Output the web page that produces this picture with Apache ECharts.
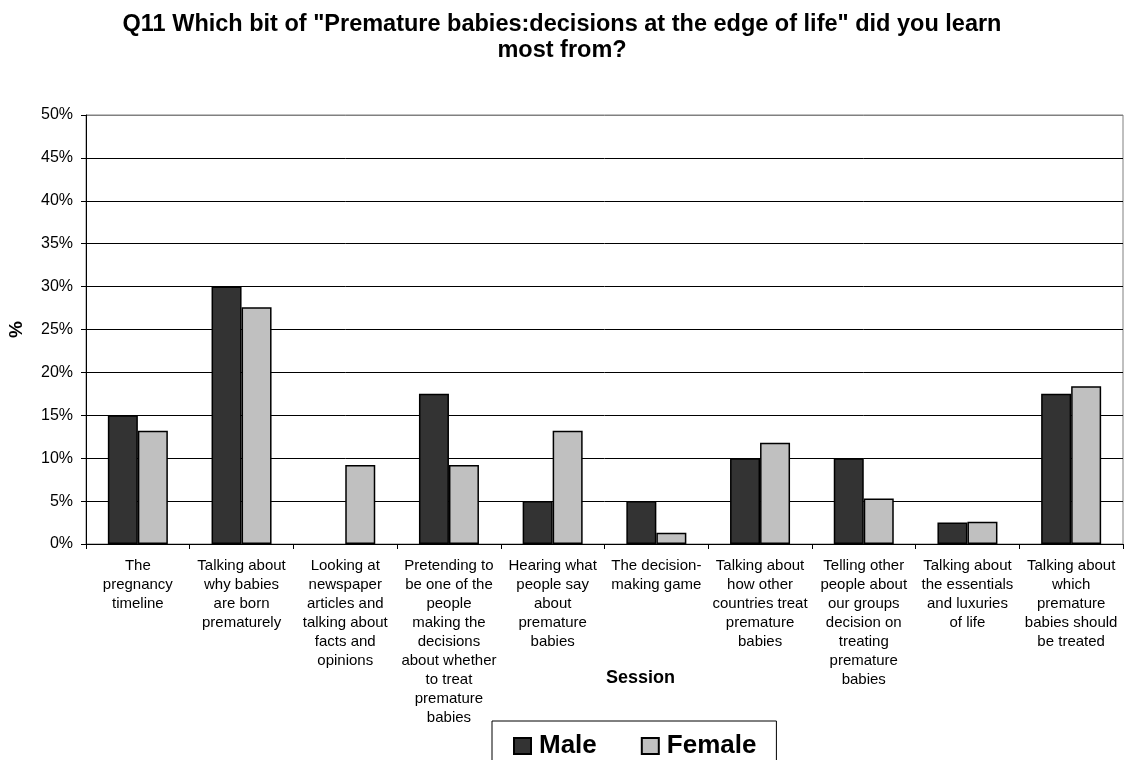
<!DOCTYPE html>
<html>
<head>
<meta charset="utf-8">
<title>Q11</title>
<script src="https://cdn.jsdelivr.net/npm/echarts@6/dist/echarts.min.js"></script>
<style>
    html, body { margin: 0; padding: 0; background: #fff; }
    #main { width: 1124px; height: 760px; }
</style>
</head>
<body>
<div id="main"></div>
<script>
// 数据
var sessions = [
    'The\npregnancy\ntimeline',
    'Talking about\nwhy babies\nare born\nprematurely',
    'Looking at\nnewspaper\narticles and\ntalking about\nfacts and\nopinions',
    'Pretending to\nbe one of the\npeople\nmaking the\ndecisions\nabout whether\nto treat\npremature\nbabies',
    'Hearing what\npeople say\nabout\npremature\nbabies',
    'The decision-\nmaking game',
    'Talking about\nhow other\ncountries treat\npremature\nbabies',
    'Telling other\npeople about\nour groups\ndecision on\ntreating\npremature\nbabies',
    'Talking about\nthe essentials\nand luxuries\nof life',
    'Talking about\nwhich\npremature\nbabies should\nbe treated'
];
var male = [15, 30, 0, 17.5, 5, 5, 10, 10, 2.5, 17.5];
var female = [13.2, 27.6, 9.2, 9.2, 13.2, 1.3, 11.8, 5.3, 2.6, 18.4];
var yTicks = [0, 5, 10, 15, 20, 25, 30, 35, 40, 45, 50];

var fontName = '"Liberation Sans", Arial, sans-serif';

var myChart = echarts.init(document.getElementById('main'));

// 顶部那条网格线是灰色的
var gridColors = yTicks.map(function (t) { return t === 50 ? '#808080' : '#000'; });

// 0 值的柱子不画边框
function barData(arr) {
    return arr.map(function (v) {
        return v === 0 ? { value: v, itemStyle: { borderWidth: 0 } } : v;
    });
}

var option = {
    backgroundColor: '#fff',
    animation: false,
    textStyle: { fontFamily: fontName },
    title: {
        text: 'Q11 Which bit of "Premature babies:decisions at the edge of life" did you learn\nmost from?',
        left: 'center',
        top: 7,
        textStyle: {
            fontFamily: fontName,
            fontSize: 23.5,
            fontWeight: 'bold',
            color: '#000',
            lineHeight: 26
        }
    },
    legend: {
        data: ['Male', 'Female'],
        left: 492,
        top: 721,
        padding: [12, 20, 30, 21],
        itemGap: 44,
        itemWidth: 17,
        itemHeight: 16,
        icon: 'rect',
        borderColor: '#000',
        borderWidth: 1,
        backgroundColor: '#fff',
        textStyle: {
            fontFamily: fontName,
            fontSize: 26,
            fontWeight: 'bold',
            color: '#000',
            padding: [0, 0, 0, 3]
        }
    },
    grid: {
        left: 86,
        right: 1,
        top: 115,
        bottom: 216,
        outerBoundsMode: 'none',
        show: true,
        borderColor: '#808080',
        borderWidth: 1,
        backgroundColor: '#fff'
    },
    xAxis: {
        type: 'category',
        data: sessions,
        name: 'Session',
        nameLocation: 'middle',
        nameGap: 125,
        nameMoveOverlap: false,
        nameTextStyle: {
            fontFamily: fontName,
            fontSize: 18,
            fontWeight: 'bold',
            color: '#000',
            padding: [0, 0, 0, 72]
        },
        axisLine: { lineStyle: { color: '#000', width: 1 } },
        axisTick: { show: true, length: 5, lineStyle: { color: '#000' } },
        axisLabel: {
            interval: 0,
            margin: 12,
            fontFamily: fontName,
            fontSize: 15,
            lineHeight: 19,
            color: '#000',
            align: 'center',
            verticalAlign: 'top'
        }
    },
    yAxis: {
        type: 'value',
        min: 0,
        max: 50,
        interval: 5,
        name: '%',
        nameLocation: 'middle',
        nameRotate: 90,
        nameGap: 60,
        nameMoveOverlap: false,
        nameTextStyle: {
            fontFamily: fontName,
            fontSize: 19,
            fontWeight: 'bold',
            color: '#000'
        },
        axisLine: { show: true, lineStyle: { color: '#000', width: 1 } },
        axisTick: { show: true, length: 5, lineStyle: { color: '#000' } },
        axisLabel: {
            margin: 13,
            fontFamily: fontName,
            fontSize: 16,
            color: '#000',
            formatter: '{value}%'
        },
        splitLine: { show: true, lineStyle: { color: gridColors, width: 1 } }
    },
    series: [
        {
            name: 'Male',
            type: 'bar',
            data: barData(male),
            barWidth: 30,
            barGap: '0%',
            itemStyle: { color: '#333333', borderColor: '#000', borderWidth: 1.5 }
        },
        {
            name: 'Female',
            type: 'bar',
            data: barData(female),
            barWidth: 30,
            barGap: '0%',
            itemStyle: { color: '#c0c0c0', borderColor: '#000', borderWidth: 1.5 }
        }
    ]
};

myChart.setOption(option);
</script>
</body>
</html>
